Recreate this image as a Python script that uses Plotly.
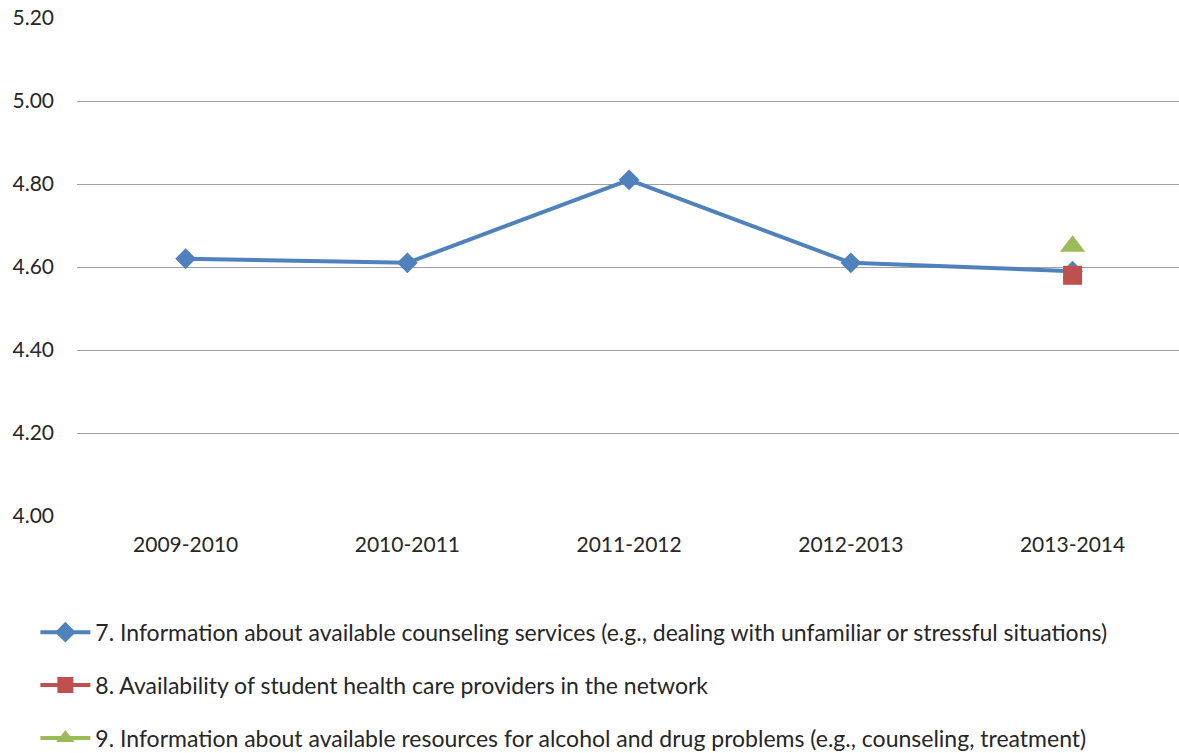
import plotly.graph_objects as go

# Survey years (category axis)
years = ["2009-2010", "2010-2011", "2011-2012", "2012-2013", "2013-2014"]

# Mean ratings per item
counseling_info = [4.62, 4.61, 4.81, 4.61, 4.59]
provider_years = ["2013-2014"]
provider_avail = [4.58]
alcohol_years = ["2013-2014"]
alcohol_info = [4.65]

y_ticks = [4.00, 4.20, 4.40, 4.60, 4.80, 5.00, 5.20]

names = [
    "7. Information about available counseling services (e.g., dealing with unfamiliar or stressful situations)",
    "8. Availability of student health care providers in the network",
    "9. Information about available resources for alcohol and drug problems (e.g., counseling, treatment)",
]

BLUE = "#4F81BD"
RED = "#C0504D"
GREEN = "#9BBB59"
FONT = "Lato"
TEXT = "#262626"

fig = go.Figure()
fig.add_trace(go.Scatter(
    x=years, y=counseling_info, name=names[0], mode="lines+markers",
    line=dict(color=BLUE, width=4),
    marker=dict(symbol="diamond", size=16, color=BLUE),
    legendgroup="a",
))
fig.add_trace(go.Scatter(
    x=provider_years, y=provider_avail, name=names[1], mode="lines+markers",
    line=dict(color=RED, width=4),
    marker=dict(symbol="square", size=19, color=RED),
    legendgroup="b",
))
fig.add_trace(go.Scatter(
    x=alcohol_years, y=alcohol_info, name=names[2], mode="lines+markers",
    line=dict(color=GREEN, width=4),
    marker=dict(symbol="triangle-up", size=22, color=GREEN),
    legendgroup="c",
))

fig.update_layout(
    width=1179, height=753,
    margin=dict(l=77, r=0, t=18, b=237, autoexpand=False),
    paper_bgcolor="white", plot_bgcolor="white",
    font=dict(family=FONT, size=21, color=TEXT),
    showlegend=True,
    legend=dict(
        xref="container", yref="container",
        x=0.03, y=0.189, xanchor="left", yanchor="top",
        orientation="v", tracegroupgap=20, itemwidth=50,
        font=dict(family=FONT, size=23, color=TEXT),
        bgcolor="rgba(0,0,0,0)",
    ),
    xaxis=dict(
        type="category", categoryorder="array", categoryarray=years,
        range=[-0.49, 4.48], showgrid=False, zeroline=False,
        showline=False, ticks="", ticklabelstandoff=14, tickangle=0,
        tickfont=dict(family=FONT, size=21, color=TEXT),
    ),
    yaxis=dict(
        range=[4.0, 5.2], tickvals=y_ticks, tickformat=".2f",
        showgrid=True, gridcolor="#A0A0A0", gridwidth=1,
        zeroline=False, showline=False, ticks="", ticklabelstandoff=22,
        tickfont=dict(family=FONT, size=21, color=TEXT),
    ),
)

fig.write_html("out.html")
